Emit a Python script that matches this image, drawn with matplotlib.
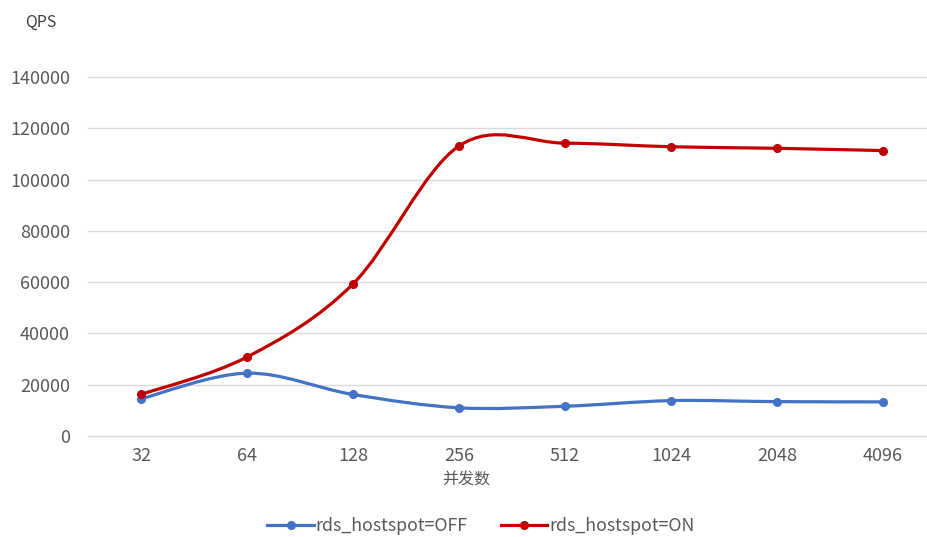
import numpy as np
import matplotlib
matplotlib.use('Agg')
import matplotlib.pyplot as plt
from matplotlib.path import Path
from matplotlib.patches import PathPatch
from matplotlib.lines import Line2D

plt.rcParams['font.family'] = ['Noto Sans CJK SC', 'DejaVu Sans']

categories = ['32', '64', '128', '256', '512', '1024', '2048', '4096']
qps_off = [14500, 24500, 16200, 11000, 11600, 13800, 13400, 13300]
qps_on = [16200, 30800, 59300, 113100, 114200, 112800, 112200, 111300]

blue = '#4472C4'
red = '#C00000'
gray = '#595959'


def smooth_path(xs, ys):
    # excel-style smoothed line: cubic bezier through the points
    pts = np.column_stack([xs, ys]).astype(float)
    n = len(pts)
    verts = [pts[0]]
    codes = [Path.MOVETO]
    for i in range(n - 1):
        p0 = pts[i - 1] if i > 0 else pts[i]
        p1 = pts[i]
        p2 = pts[i + 1]
        p3 = pts[i + 2] if i + 2 < n else pts[i + 1]
        c1 = p1 + (p2 - p0) / 6
        c2 = p2 - (p3 - p1) / 6
        verts += [c1, c2, p2]
        codes += [Path.CURVE4] * 3
    return Path(verts, codes)


fig = plt.figure(figsize=(9.27, 5.37), dpi=100)
ax = fig.add_axes([88 / 927, 1 - 436 / 537, 848 / 927, (436 - 77) / 537])

x = np.arange(len(categories))
for vals, col, lab in [(qps_off, blue, 'rds_hostspot=OFF'), (qps_on, red, 'rds_hostspot=ON')]:
    patch = PathPatch(smooth_path(x, vals), facecolor='none', edgecolor=col, lw=2.3,
                      capstyle='round', joinstyle='round', zorder=3)
    ax.add_patch(patch)
    ax.plot(x, vals, ls='none', marker='o', ms=5.5, color=col, zorder=4, label=lab)

ax.set_xlim(-0.5, len(categories) - 0.5)
ax.set_ylim(0, 140000)
ax.set_yticks(np.arange(0, 140001, 20000))
ax.set_xticks(x)
ax.set_xticklabels(categories)
ax.grid(axis='y', color='#D9D9D9', lw=1)
for gl in ax.get_ygridlines():
    gl.set_clip_on(False)
ax.set_axisbelow(True)
for s in ax.spines.values():
    s.set_visible(False)
ax.tick_params(length=0, colors=gray, labelsize=13, pad=8)
ax.tick_params(axis='y', pad=13)

fig.text(25 / 927, 1 - 22 / 537, 'QPS', fontsize=11.5, color='#404040', va='center', ha='left')
fig.text(466 / 927, 1 - 480 / 537, '并发数', fontsize=11.5, color=gray, va='center', ha='center')

handles = [Line2D([0], [0], color=blue, lw=2.3, marker='o', ms=5.5),
           Line2D([0], [0], color=red, lw=2.3, marker='o', ms=5.5)]
fig.legend(handles, ['rds_hostspot=OFF', 'rds_hostspot=ON'], loc='center',
           bbox_to_anchor=(481 / 927, 1 - 526 / 537), ncol=2, frameon=False,
           fontsize=12.8, labelcolor=gray, handlelength=2.6, handletextpad=0.1,
           columnspacing=1.9)

fig.savefig('out.png', dpi=100)
